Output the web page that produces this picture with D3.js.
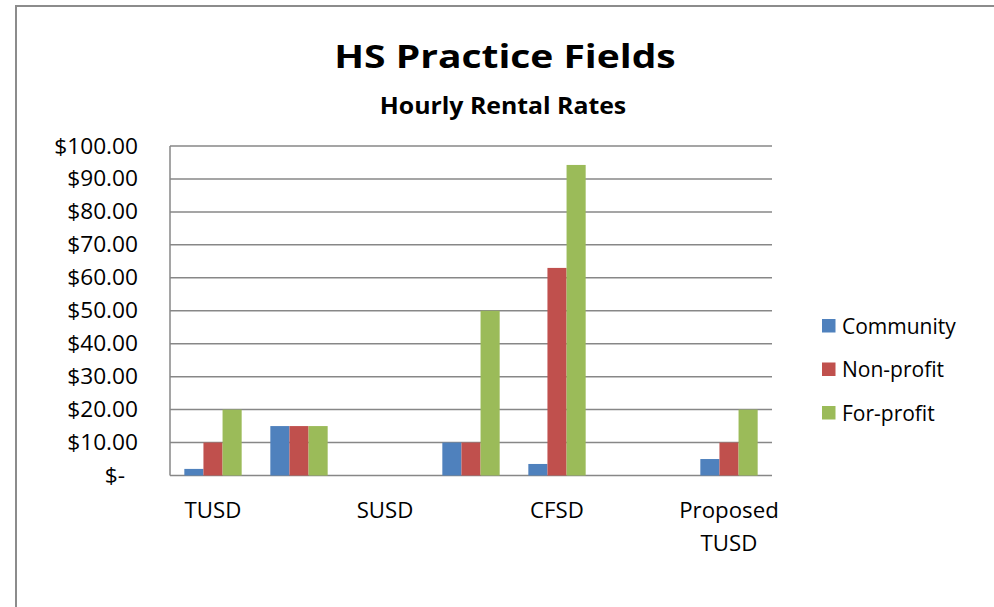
<!DOCTYPE html>
<html>
<head>
<meta charset="utf-8">
<script src="https://cdn.jsdelivr.net/npm/d3@7"></script>
<style>
  body { margin: 0; background: #fff; }
  text { font-family: "Open Sans", "Noto Sans", sans-serif; fill: #000; }
</style>
</head>
<body>
<div id="content"></div>
<script>
var Width = 994;
var Height = 607;

// data
var categories = ["TUSD", "", "SUSD", "", "CFSD", "", "Proposed TUSD"];
var seriesNames = ["Community", "Non-profit", "For-profit"];
var community = [2, 15, 0, 10, 3.5, null, 5];
var nonProfit = [10, 15, 0, 10, 63, null, 10];
var forProfit = [20, 15, 0, 50, 94.25, null, 20];
var yTicks = [0, 10, 20, 30, 40, 50, 60, 70, 80, 90, 100];
var colors = ["#4F81BD", "#C0504D", "#9BBB59"];

var values = [community, nonProfit, forProfit];

var plotLeft = 170, plotRight = 772, plotTop = 146, plotBottom = 475.5;

var svg = d3
  .select("#content")
  .append("svg")
  .attr("width", Width)
  .attr("height", Height);

// chart frame (cut off on right and bottom)
svg
  .append("rect")
  .attr("x", 16)
  .attr("y", 6)
  .attr("width", Width + 20)
  .attr("height", Height + 20)
  .attr("fill", "#fff")
  .attr("stroke", "#8c8c8c")
  .attr("stroke-width", 2);

// stretched text helper
function stretch(sel, x, y, sx) {
  return sel.attr("transform", "translate(" + x + "," + y + ") scale(" + sx + ",1)");
}

var x0 = d3
  .scaleBand()
  .domain(d3.range(categories.length))
  .range([plotLeft, plotRight]);

var x1 = d3
  .scaleBand()
  .domain(d3.range(seriesNames.length))
  .range([0, x0.bandwidth()])
  .paddingOuter(0.75);

var yScale = d3.scaleLinear().domain([0, 100]).range([plotBottom, plotTop]);

// gridlines
svg
  .append("g")
  .selectAll("line")
  .data(yTicks)
  .enter()
  .append("line")
  .attr("x1", plotLeft)
  .attr("x2", plotRight)
  .attr("y1", function (d) { return yScale(d); })
  .attr("y2", function (d) { return yScale(d); })
  .attr("stroke", "#878787")
  .attr("stroke-width", 1.5);

// y axis line
svg
  .append("line")
  .attr("x1", plotLeft)
  .attr("x2", plotLeft)
  .attr("y1", plotTop)
  .attr("y2", plotBottom)
  .attr("stroke", "#878787")
  .attr("stroke-width", 1.5);

// y tick labels
svg
  .append("g")
  .selectAll("text")
  .data(yTicks)
  .enter()
  .append("text")
  .attr("text-anchor", "end")
  .style("font-size", "21px")
  .each(function (d) {
    stretch(d3.select(this), d === 0 ? 125 : 138, yScale(d) + 7.5, 1.08);
  })
  .text(function (d) { return d === 0 ? "$-" : "$" + d.toFixed(2); });

// bars
var groups = svg
  .append("g")
  .selectAll("g")
  .data(values)
  .enter()
  .append("g")
  .attr("fill", function (d, i) { return colors[i]; });

groups.each(function (vals, si) {
  d3.select(this)
    .selectAll("rect")
    .data(vals.map(function (v, ci) { return { v: v, ci: ci }; }).filter(function (d) { return d.v; }))
    .enter()
    .append("rect")
    .attr("x", function (d) { return x0(d.ci) + x1(si); })
    .attr("width", x1.bandwidth())
    .attr("y", function (d) { return yScale(d.v); })
    .attr("height", function (d) { return yScale(0) - yScale(d.v); });
});

// x labels
svg
  .append("g")
  .selectAll("text")
  .data(categories)
  .enter()
  .append("text")
  .attr("text-anchor", "middle")
  .style("font-size", "21px")
  .each(function (d, i) {
    var t = d3.select(this);
    stretch(t, x0(i) + x0.bandwidth() / 2, 518, 1.06);
    var lines = d === "Proposed TUSD" ? ["Proposed", "TUSD"] : [d];
    lines.forEach(function (l, k) {
      t.append("tspan").attr("x", 0).attr("dy", k === 0 ? 0 : 33).text(l);
    });
  });

// titles
stretch(svg.append("text"), 505, 68, 1.2)
  .attr("text-anchor", "middle")
  .style("font-size", "32.5px")
  .style("font-weight", "bold")
  .text("HS Practice Fields");

stretch(svg.append("text"), 503, 114, 1.08)
  .attr("text-anchor", "middle")
  .style("font-size", "23px")
  .style("font-weight", "bold")
  .text("Hourly Rental Rates");

// legend
var legend = svg
  .append("g")
  .selectAll("g")
  .data(seriesNames)
  .enter()
  .append("g")
  .attr("transform", function (d, i) { return "translate(822," + (319 + i * 43.5) + ")"; });

legend
  .append("rect")
  .attr("width", 13.5)
  .attr("height", 13.5)
  .attr("fill", function (d, i) { return colors[i]; });

legend
  .append("text")
  .attr("x", 20)
  .attr("y", 14.5)
  .style("font-size", "21px")
  .text(function (d) { return d; });
</script>
</body>
</html>
